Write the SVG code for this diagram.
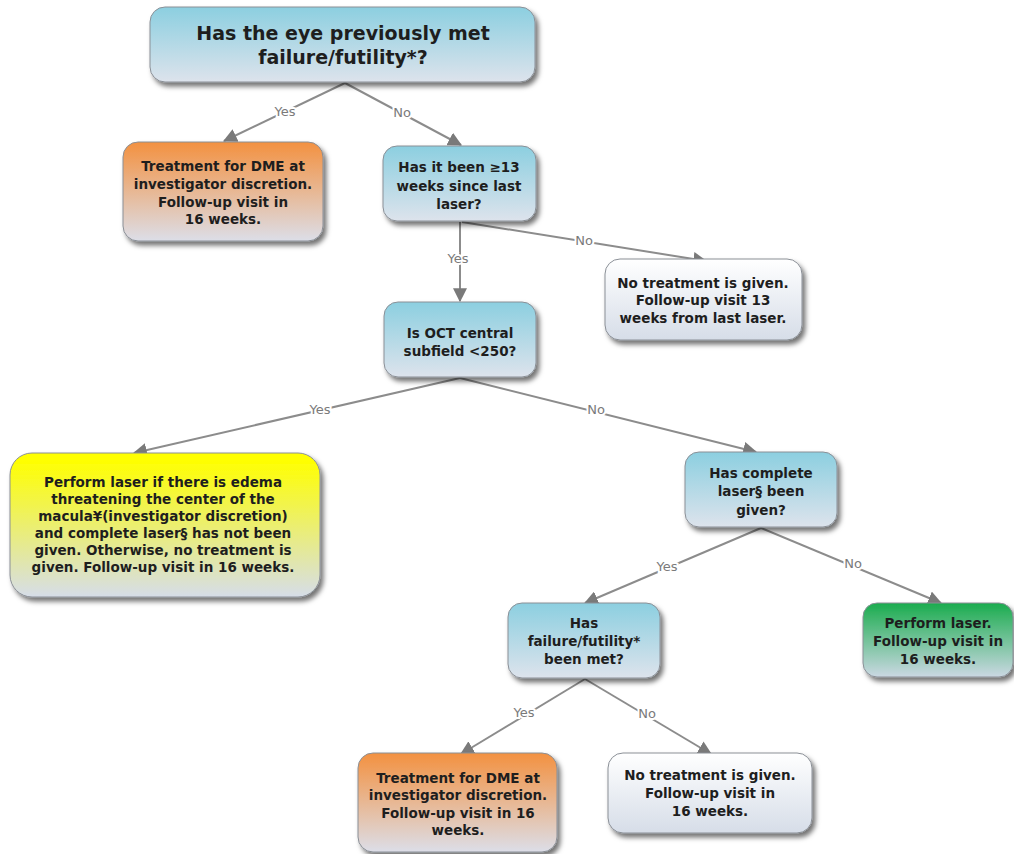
<svg xmlns="http://www.w3.org/2000/svg" width="1014" height="854" viewBox="0 0 1014 854">
<defs>
<linearGradient id="gBlue" x1="0" y1="0" x2="0" y2="1"><stop offset="0" stop-color="#8ccfe0"/><stop offset="1" stop-color="#dde3ec"/></linearGradient>
<linearGradient id="gOrange" x1="0" y1="0" x2="0" y2="1"><stop offset="0" stop-color="#f39140"/><stop offset="1" stop-color="#dcdee8"/></linearGradient>
<linearGradient id="gYellow" x1="0" y1="0" x2="0" y2="1"><stop offset="0.05" stop-color="#ffff00"/><stop offset="1" stop-color="#d6dde9"/></linearGradient>
<linearGradient id="gGreen" x1="0" y1="0" x2="0" y2="1"><stop offset="0" stop-color="#1aac4e"/><stop offset="1" stop-color="#cbd8e3"/></linearGradient>
<linearGradient id="gWhite" x1="0" y1="0" x2="0" y2="1"><stop offset="0" stop-color="#ffffff"/><stop offset="1" stop-color="#d6dde8"/></linearGradient>
<filter id="sh" x="-10%" y="-10%" width="130%" height="140%"><feDropShadow dx="3" dy="4" stdDeviation="2.5" flood-color="#000" flood-opacity="0.55"/></filter>
<marker id="arr" viewBox="0 0 10 10" refX="9" refY="5" markerWidth="7" markerHeight="7" orient="auto" markerUnits="userSpaceOnUse"><path d="M0,0 L10,5 L0,10 z" fill="#7a7a7a"/></marker>
<marker id="arrow" viewBox="0 0 12 12" refX="11" refY="6" markerWidth="14" markerHeight="14" orient="auto" markerUnits="userSpaceOnUse"><path d="M0,0 L12,6 L0,12 z" fill="#7a7a7a"/></marker>
</defs>
<style>
.box{stroke:#8a8f96;stroke-width:1;filter:url(#sh)}
.t{font-family:"DejaVu Sans",Verdana,sans-serif;font-weight:bold;fill:#1e1e1e;text-anchor:middle}
.s{font-size:13.5px}
.e{stroke:#8c8c8c;stroke-width:2;fill:none;marker-end:url(#arrow)}
.l{font-family:"DejaVu Sans",Verdana,sans-serif;font-size:13px;fill:#7a7a7a;text-anchor:middle;stroke:#fff;stroke-width:4;paint-order:stroke}
</style>
<rect width="1014" height="854" fill="#fff"/>
<g id="connectors">
<line class="e" x1="345" y1="83" x2="224" y2="141"/>
<line class="e" x1="345" y1="83" x2="461" y2="145"/>
<line class="e" x1="460" y1="222" x2="460" y2="301"/>
<line class="e" x1="462" y1="222" x2="706" y2="261"/>
<line class="e" x1="460" y1="378" x2="134" y2="453"/>
<line class="e" x1="460" y1="378" x2="756" y2="452"/>
<line class="e" x1="761" y1="528" x2="585" y2="603"/>
<line class="e" x1="761" y1="528" x2="941" y2="603"/>
<line class="e" x1="585" y1="679" x2="461" y2="754"/>
<line class="e" x1="585" y1="679" x2="711" y2="754"/>
<text class="l" x="285" y="116">Yes</text>
<text class="l" x="402" y="117">No</text>
<text class="l" x="458" y="263">Yes</text>
<text class="l" x="584" y="245">No</text>
<text class="l" x="320" y="414">Yes</text>
<text class="l" x="596" y="414">No</text>
<text class="l" x="667" y="571">Yes</text>
<text class="l" x="853" y="568">No</text>
<text class="l" x="524" y="717">Yes</text>
<text class="l" x="647" y="718">No</text>
</g>
<g id="n-top">
<rect class="box" x="150" y="7" width="385" height="75" rx="15" fill="url(#gBlue)"/>
<text class="t" x="343" y="40" font-size="19">Has the eye previously met</text>
<text class="t" x="343" y="64" font-size="19">failure/futility*?</text>
</g>
<g id="n-dme1">
<rect class="box" x="123" y="142" width="200" height="99" rx="15" fill="url(#gOrange)"/>
<text class="t s" x="223" y="171">Treatment for DME at</text>
<text class="t s" x="223" y="189">investigator discretion.</text>
<text class="t s" x="223" y="207">Follow-up visit in</text>
<text class="t s" x="223" y="224">16 weeks.</text>
</g>
<g id="n-13weeks">
<rect class="box" x="383" y="146" width="153" height="75" rx="14" fill="url(#gBlue)"/>
<text class="t s" x="459" y="172">Has it been ≥13</text>
<text class="t s" x="459" y="191">weeks since last</text>
<text class="t s" x="459" y="209">laser?</text>
</g>
<g id="n-notreat13">
<rect class="box" x="605" y="259" width="197" height="81" rx="15" fill="url(#gWhite)"/>
<text class="t s" x="703" y="288">No treatment is given.</text>
<text class="t s" x="703" y="305">Follow-up visit 13</text>
<text class="t s" x="703" y="323">weeks from last laser.</text>
</g>
<g id="n-oct">
<rect class="box" x="384" y="302" width="152" height="75" rx="14" fill="url(#gBlue)"/>
<text class="t s" x="460" y="338">Is OCT central</text>
<text class="t s" x="460" y="356">subfield &lt;250?</text>
</g>
<g id="n-yellow">
<rect class="box" x="10" y="453" width="310" height="144" rx="22" fill="url(#gYellow)"/>
<text class="t s" x="163" y="487">Perform laser if there is edema</text>
<text class="t s" x="163" y="504">threatening the center of the</text>
<text class="t s" x="163" y="521">macula¥(investigator discretion)</text>
<text class="t s" x="163" y="538">and complete laser§ has not been</text>
<text class="t s" x="163" y="555">given. Otherwise, no treatment is</text>
<text class="t s" x="163" y="572">given. Follow-up visit in 16 weeks.</text>
</g>
<g id="n-complete">
<rect class="box" x="685" y="452" width="152" height="75" rx="14" fill="url(#gBlue)"/>
<text class="t s" x="761" y="478">Has complete</text>
<text class="t s" x="761" y="496">laser§ been</text>
<text class="t s" x="761" y="515">given?</text>
</g>
<g id="n-green">
<rect class="box" x="863" y="603" width="150" height="74" rx="14" fill="url(#gGreen)"/>
<text class="t s" x="938" y="628">Perform laser.</text>
<text class="t s" x="938" y="646">Follow-up visit in</text>
<text class="t s" x="938" y="664">16 weeks.</text>
</g>
<g id="n-failure">
<rect class="box" x="508" y="603" width="152" height="75" rx="14" fill="url(#gBlue)"/>
<text class="t s" x="584" y="628">Has</text>
<text class="t s" x="584" y="646">failure/futility*</text>
<text class="t s" x="584" y="664">been met?</text>
</g>
<g id="n-dme2">
<rect class="box" x="358" y="753" width="199" height="99" rx="15" fill="url(#gOrange)"/>
<text class="t s" x="458" y="783">Treatment for DME at</text>
<text class="t s" x="458" y="800">investigator discretion.</text>
<text class="t s" x="458" y="818">Follow-up visit in 16</text>
<text class="t s" x="458" y="835">weeks.</text>
</g>
<g id="n-notreat16">
<rect class="box" x="608" y="753" width="204" height="80" rx="15" fill="url(#gWhite)"/>
<text class="t s" x="710" y="780">No treatment is given.</text>
<text class="t s" x="710" y="798">Follow-up visit in</text>
<text class="t s" x="710" y="816">16 weeks.</text>
</g>
</svg>
